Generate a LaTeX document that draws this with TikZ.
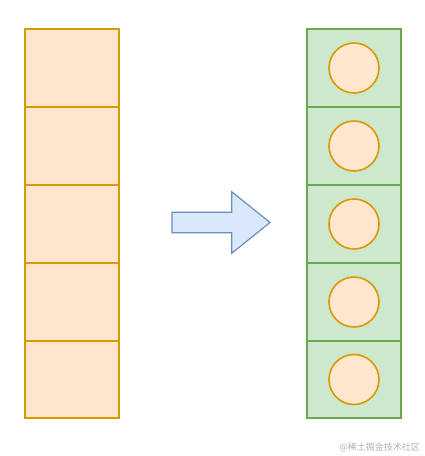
\documentclass[tikz,border=0pt]{standalone}
\usepackage{fontspec}
\newfontfamily\cjk{Noto Sans CJK SC}
\definecolor{ofill}{HTML}{FFE6CC}
\definecolor{odraw}{HTML}{D79B00}
\definecolor{gfill}{HTML}{CDE8CC}
\definecolor{gdraw}{HTML}{6AAA4E}
\definecolor{afill}{HTML}{DAE8FC}
\definecolor{adraw}{HTML}{6C8EBF}
\tikzset{
  ocell/.style={draw=odraw, fill=ofill, line width=1.8pt},
  gcell/.style={draw=gdraw, fill=gfill, line width=1.8pt},
  dot/.style={circle, draw=odraw, fill=ofill, line width=1.6pt, minimum size=50pt, inner sep=0pt},
  arrowshape/.style={draw=adraw, fill=afill, line width=1.2pt, line join=miter}
}
\begin{document}
\begin{tikzpicture}[x=1pt,y=-1pt]
\useasboundingbox (0,0) rectangle (424,456);
\foreach \t/\b [count=\i from 0] in {29/107,107/185,185/263,263/341,341/418}{
  \draw[ocell] (25,\t) rectangle (119,\b);
  \draw[gcell] (307,\t) rectangle (401,\b);
  \coordinate (R\i) at (354,{(\t+\b)/2});
  \node[dot] (C\i) at (R\i) {};
}
\draw[arrowshape] (172,212.3) -- (231.7,212.3) -- (231.7,191.7) -- (270,222.5) -- (231.7,253.3) -- (231.7,232.7) -- (172,232.7) -- cycle;
\node[text=black!30, font=\cjk\fontsize{9pt}{10pt}\selectfont, anchor=east, inner sep=0pt] (wm) at (420,447) {@稀土掘金技术社区};
\end{tikzpicture}
\end{document}
